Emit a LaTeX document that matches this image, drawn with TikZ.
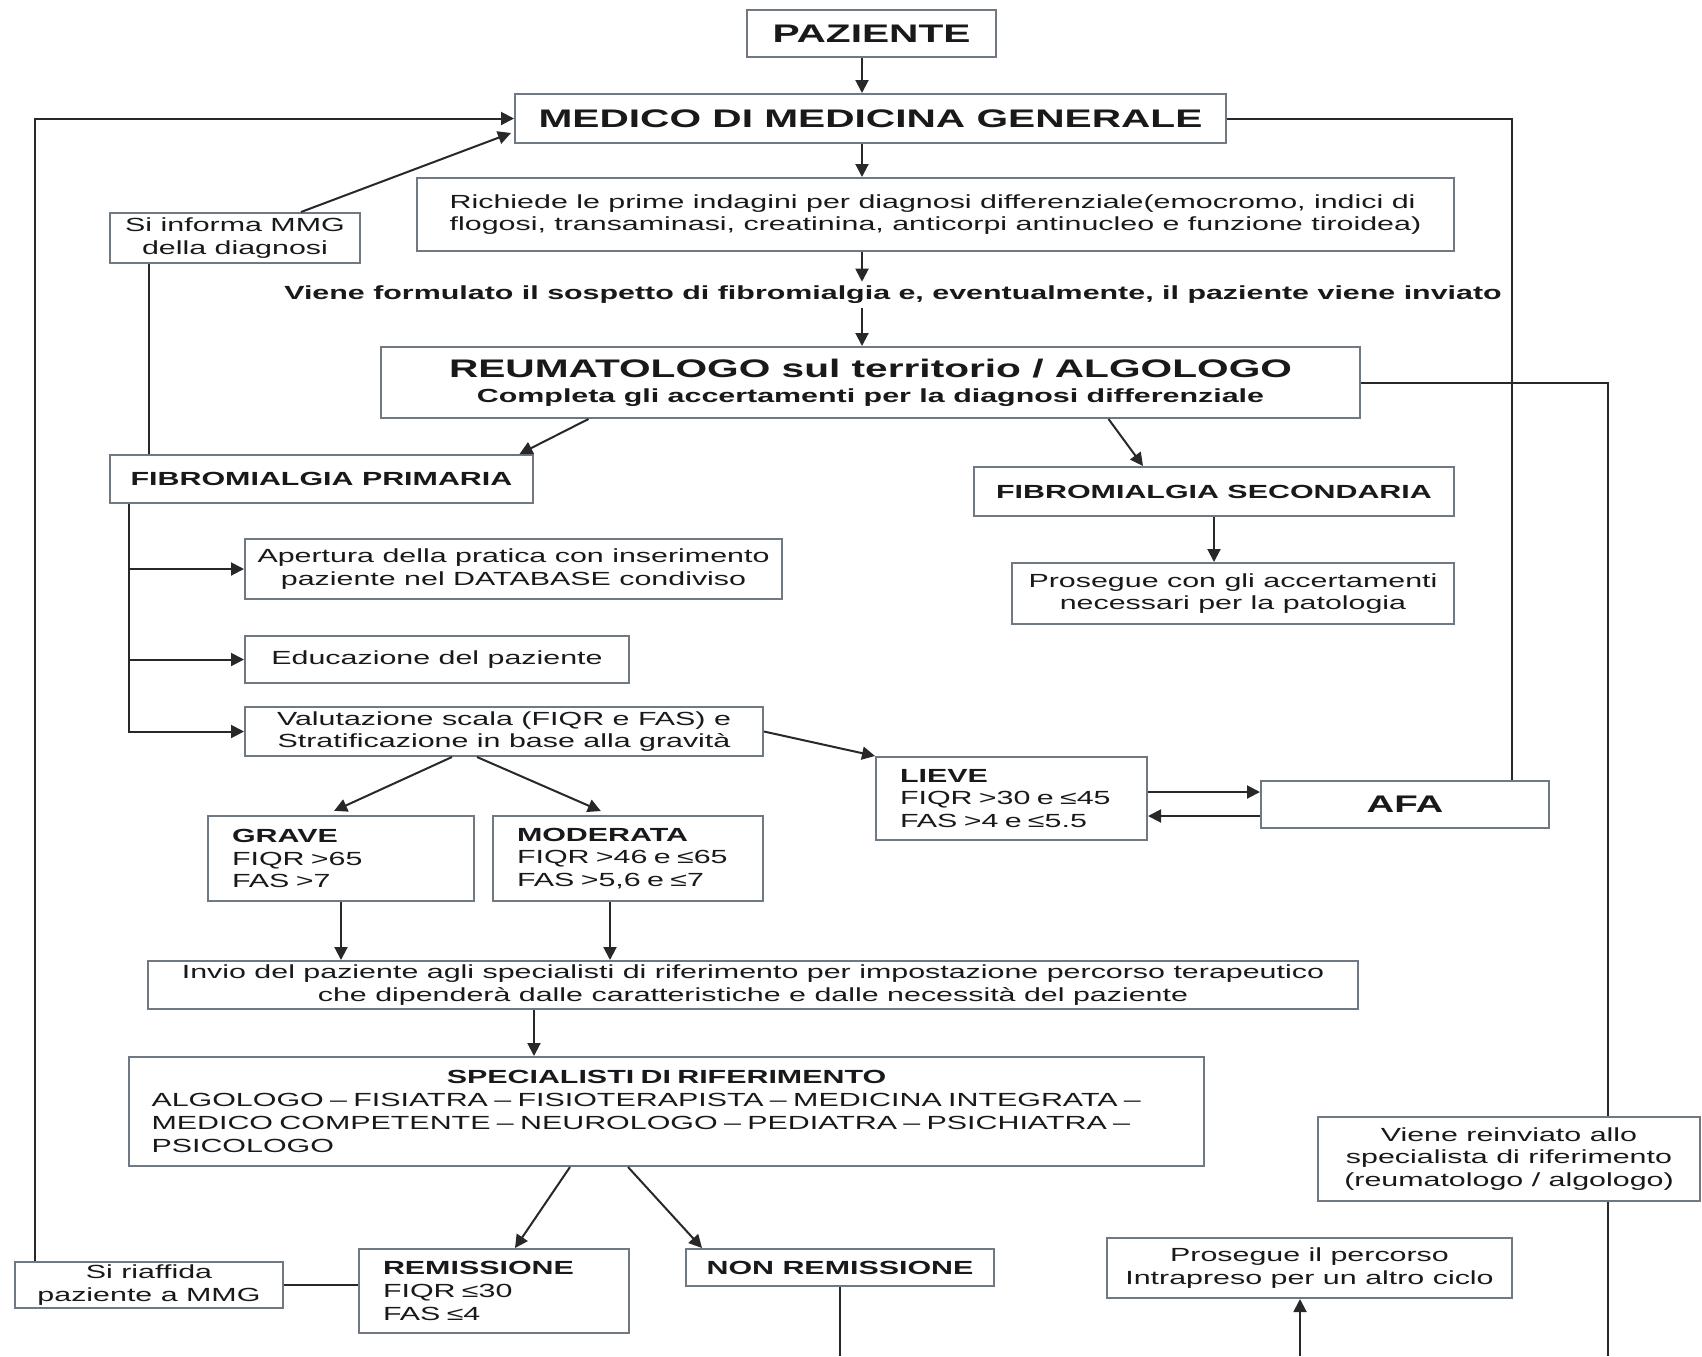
\documentclass[tikz,border=0pt]{standalone}
\usepackage{fontspec}
\setmainfont{Liberation Sans}[FakeStretch=1.6]
\usepackage{xcolor}
\usepackage{tikz}
\usetikzlibrary{arrows.meta}
\definecolor{frame}{RGB}{112, 120, 130}
\definecolor{wire}{RGB}{40, 40, 40}
\definecolor{ink}{RGB}{25, 25, 25}

\begin{document}
\begin{tikzpicture}[
    x=0.5pt, y=-0.5pt,
    box/.style={
      rectangle,
      draw=frame,
      line width=1pt,
      fill=white,
      text=ink,
      inner sep=0pt,
      align=center,
      font=\fontsize{9.5}{11.4}\selectfont
    },
    headbox/.style={box, font=\bfseries\fontsize{12.7}{15}\selectfont},
    boldbox/.style={box, font=\bfseries\fontsize{9.5}{11.4}\selectfont},
    leftbox/.style={box, align=left},
    link/.style={draw=wire, line width=1pt},
    flow/.style={link, -{Triangle[length=6.5pt,width=6.5pt]}}
  ]
    \fill[white] (0,0) rectangle (1702,1356);
    \useasboundingbox (0,0) rectangle (1702,1356);

    \node[headbox, minimum width=124.5pt, minimum height=23.5pt] (paziente) at (871.5,33.5) {PAZIENTE};
    \node[headbox, minimum width=355.5pt, minimum height=24.5pt] (mmg) at (870.5,118.5) {MEDICO DI MEDICINA GENERALE};
    \node[box, align=left, minimum width=518.5pt, minimum height=36.5pt] (richiede) at (935.5,214.5) {Richiede le prime indagini per diagnosi differenziale(emocromo, indici di\\flogosi, transaminasi, creatinina, anticorpi antinucleo e funzione tiroidea)};
    \node[font=\bfseries\fontsize{9.5}{11.4}\selectfont, text=ink, inner sep=2pt] (sospetto) at (893,295) {Viene formulato il sospetto di fibromialgia e, eventualmente, il paziente viene inviato};
    \node[box, minimum width=489.5pt, minimum height=35.5pt] (reuma) at (870.5,382.5) {{\bfseries\fontsize{12.7}{15}\selectfont REUMATOLOGO sul territorio / ALGOLOGO}\\[1pt]{\bfseries Completa gli accertamenti per la diagnosi differenziale}};
    \node[box, minimum width=125pt, minimum height=25pt] (informa) at (235,238) {Si informa MMG\\della diagnosi};
    \node[boldbox, minimum width=211.5pt, minimum height=24pt] (primaria) at (321.5,479) {FIBROMIALGIA PRIMARIA};
    \node[boldbox, minimum width=240pt, minimum height=24.5pt] (secondaria) at (1214,491.5) {FIBROMIALGIA SECONDARIA};
    \node[box, minimum width=221pt, minimum height=30.5pt] (accertamenti) at (1233,593.5) {Prosegue con gli accertamenti\\necessari per la patologia};
    \node[box, minimum width=268.5pt, minimum height=30pt] (apertura) at (513.5,569) {Apertura della pratica con inserimento\\paziente nel DATABASE condiviso};
    \node[box, minimum width=192pt, minimum height=23.5pt] (educazione) at (437,659.5) {Educazione del paziente};
    \node[box, minimum width=259pt, minimum height=24.5pt] (valutazione) at (504,731.5) {Valutazione scala (FIQR e FAS) e\\Stratificazione in base alla gravità};
    \node[leftbox, text width=109pt, minimum width=133pt, minimum height=42.5pt] (grave) at (341,858.5) {\textbf{GRAVE}\\FIQR >65\\FAS >7};
    \node[leftbox, text width=111pt, minimum width=135pt, minimum height=42.5pt] (moderata) at (628,858.5) {\textbf{MODERATA}\\FIQR >46 e ≤65\\FAS >5,6 e ≤7};
    \node[leftbox, text width=111.5pt, minimum width=135.5pt, minimum height=41.5pt] (lieve) at (1011.5,798.5) {\textbf{LIEVE}\\FIQR >30 e ≤45\\FAS >4 e ≤5.5};
    \node[headbox, font=\bfseries\fontsize{12}{14}\selectfont, minimum width=144pt, minimum height=23.5pt] (afa) at (1405,804.5) {AFA};
    \node[box, minimum width=605pt, minimum height=24pt] (invio) at (753,985) {Invio del paziente agli specialisti di riferimento per impostazione percorso terapeutico\\che dipenderà dalle caratteristiche e dalle necessità del paziente};
    \node[leftbox, text width=515pt, minimum width=537.5pt, minimum height=54.5pt] (specialisti) at (666.5,1111.5) {\makebox[\linewidth]{\bfseries SPECIALISTI DI RIFERIMENTO}\\ALGOLOGO -- FISIATRA -- FISIOTERAPISTA -- MEDICINA INTEGRATA --\\MEDICO COMPETENTE -- NEUROLOGO -- PEDIATRA -- PSICHIATRA --\\PSICOLOGO};
    \node[leftbox, text width=111pt, minimum width=135pt, minimum height=42pt] (remissione) at (494,1291) {\textbf{REMISSIONE}\\FIQR ≤30\\FAS ≤4};
    \node[boldbox, minimum width=154pt, minimum height=18.5pt] (nonremissione) at (840,1267.5) {NON REMISSIONE};
    \node[box, minimum width=134pt, minimum height=23pt] (riaffida) at (149,1285) {Si riaffida\\paziente a MMG};
    \node[box, minimum width=191pt, minimum height=42pt] (reinviato) at (1509,1159) {Viene reinviato allo\\specialista di riferimento\\(reumatologo / algologo)};
    \node[box, minimum width=202.5pt, minimum height=30pt] (prosegue) at (1309.5,1268) {Prosegue il percorso\\Intrapreso per un altro ciclo};

    \coordinate (spine) at (862,0);
    \coordinate (trunk) at ([xshift=-96.25pt]primaria.south);
    \coordinate (endN) at (840,1356);
    \coordinate (endP) at (1300,1356);
    \coordinate (endR) at (1608,1356);

    \draw[flow] (paziente.south -| spine) -- (mmg.north -| spine);
    \draw[flow] (mmg.south -| spine) -- (richiede.north -| spine);
    \draw[flow] (richiede.south -| spine) -- (sospetto.north -| spine);
    \draw[flow] (sospetto.south -| spine) -- (reuma.north -| spine);
    \draw[flow] ([xshift=-141pt]reuma.south) -- ([xshift=99pt]primaria.north);
    \draw[flow] ([xshift=119pt]reuma.south) -- ([xshift=-35.5pt]secondaria.north);
    \draw[flow] (secondaria.south) -- (secondaria.south |- accertamenti.north);
    \draw[flow] ([xshift=33pt]informa.north) -- ([xshift=-1.5pt,yshift=5.5pt]mmg.south west);
    \draw[link] ([xshift=-43pt]informa.south) -- ([xshift=-43pt]informa.south |- primaria.north);
    \draw[flow] ([xshift=-57pt]riaffida.north) |- (mmg.west);
    \draw[link] (mmg.east) -| ([xshift=53.5pt]afa.north);
    \draw[link] (reuma.east) -| ([xshift=49.5pt]reinviato.north);
    \draw[link] ([xshift=49.5pt]reinviato.south) -- (endR);

    \draw[flow] (trunk) |- (valutazione.west);
    \draw[flow] (trunk |- apertura.west) -- (apertura.west);
    \draw[flow] (trunk |- educazione.west) -- (educazione.west);
    \draw[flow, shorten >=5pt] ([xshift=-26pt]valutazione.south) -- ([xshift=-8pt]grave.north);
    \draw[flow, shorten >=5pt] ([xshift=-13.5pt]valutazione.south) -- ([xshift=-9pt]moderata.north);
    \draw[flow] (valutazione.east) -- (lieve.north west);
    \draw[flow] ([yshift=3.25pt]lieve.east) -- ([yshift=6.25pt]afa.west);
    \draw[flow] ([yshift=-5.75pt]afa.west) -- ([yshift=-8.75pt]lieve.east);

    \draw[flow] (grave.south) -- (grave.south |- invio.north);
    \draw[flow] ([xshift=-9pt]moderata.south) -- ([xshift=-9pt]moderata.south |- invio.north);
    \draw[flow] ([xshift=-109.5pt]invio.south) -- ([xshift=-109.5pt]invio.south |- specialisti.north);
    \draw[flow] ([xshift=-48.25pt]specialisti.south) -- ([xshift=10.5pt]remissione.north);
    \draw[flow] ([xshift=-19.25pt]specialisti.south) -- ([xshift=-69pt]nonremissione.north);
    \draw[link] (riaffida.east) -- (riaffida.east -| remissione.west);
    \draw[link] (nonremissione.south) -- (endN);
    \draw[flow] (endP) -- (endP |- prosegue.south);
\end{tikzpicture}
\end{document}
